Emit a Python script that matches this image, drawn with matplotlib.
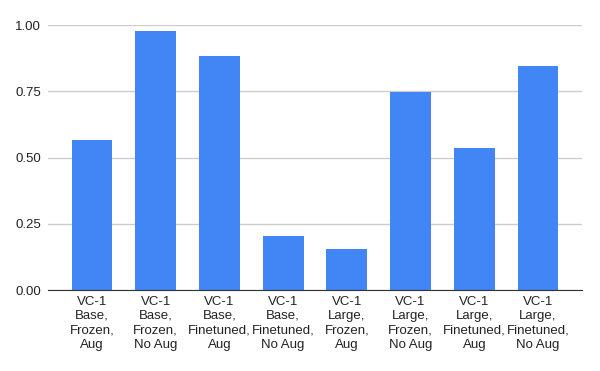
import matplotlib
matplotlib.use("Agg")
import matplotlib.pyplot as plt
import numpy as np

categories = [
    "VC-1\nBase,\nFrozen,\nAug",
    "VC-1\nBase,\nFrozen,\nNo Aug",
    "VC-1\nBase,\nFinetuned,\nAug",
    "VC-1\nBase,\nFinetuned,\nNo Aug",
    "VC-1\nLarge,\nFrozen,\nAug",
    "VC-1\nLarge,\nFrozen,\nNo Aug",
    "VC-1\nLarge,\nFinetuned,\nAug",
    "VC-1\nLarge,\nFinetuned,\nNo Aug",
]
values = [0.566, 0.977, 0.883, 0.204, 0.155, 0.748, 0.537, 0.845]
yticks = [0.0, 0.25, 0.5, 0.75, 1.0]

plt.rcParams['font.family'] = ['Liberation Sans', 'DejaVu Sans']

fig = plt.figure(figsize=(6, 3.71), dpi=100)
ax = fig.add_axes([0.08, 0.2183, 0.89, 0.7143])

x = np.arange(len(categories))
ax.bar(x, values, width=0.64, color="#4285F4", zorder=3)

ax.set_xlim(-0.69, 7.69)
ax.set_ylim(0, 1.0)
ax.set_yticks(yticks)
ax.set_yticklabels([f"{t:.2f}" for t in yticks])
ax.set_xticks(x)
ax.set_xticklabels(categories, linespacing=1.27)

ax.grid(axis="y", color="#cccccc", linewidth=1, zorder=0)
ax.tick_params(axis="both", length=0, labelsize=9.5, colors="#222222")
ax.tick_params(axis="x", pad=4)
ax.tick_params(axis="y", pad=5)
for side in ["top", "right", "left"]:
    ax.spines[side].set_visible(False)
ax.spines["bottom"].set_color("#333333")
ax.spines["bottom"].set_zorder(4)

fig.savefig("out.png", dpi=100)
